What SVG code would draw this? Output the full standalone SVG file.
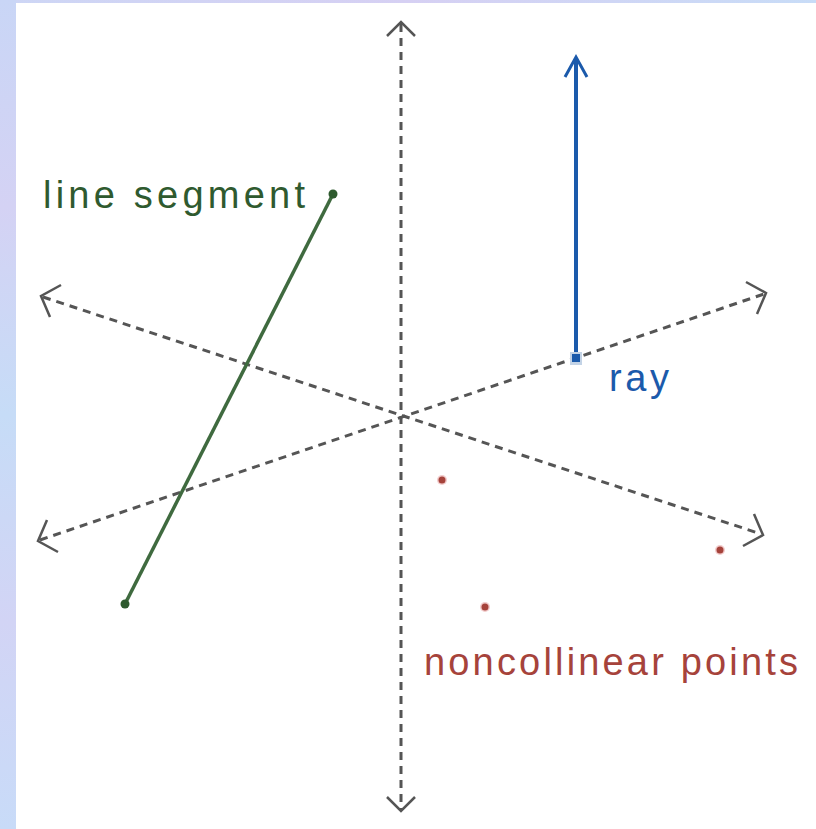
<svg xmlns="http://www.w3.org/2000/svg" width="816" height="829" viewBox="0 0 816 829">
  <defs>
    <linearGradient id="bg" x1="0" y1="0" x2="0" y2="1">
      <stop offset="0" stop-color="#c9d6f6"/>
      <stop offset="0.25" stop-color="#d4d2f4"/>
      <stop offset="0.5" stop-color="#c6dcf7"/>
      <stop offset="0.75" stop-color="#d2d4f5"/>
      <stop offset="1" stop-color="#c8dbf8"/>
    </linearGradient>
    <linearGradient id="bgTop" x1="0" y1="0" x2="1" y2="0">
      <stop offset="0" stop-color="#cdd6f5"/>
      <stop offset="0.5" stop-color="#d6d0f3"/>
      <stop offset="1" stop-color="#c8dcf7"/>
    </linearGradient>
    <style>
      .dash { fill: none; stroke: #555555; stroke-width: 3; stroke-dasharray: 8 6; }
      .head { fill: none; stroke: #555555; stroke-width: 2.5; stroke-linejoin: miter; }
      .lbl { font-family: "Liberation Sans", Arial, sans-serif; font-size: 38px; }
    </style>
  </defs>

  <rect x="0" y="0" width="816" height="829" fill="#ffffff"/>
  <rect x="0" y="0" width="816" height="3" fill="url(#bgTop)"/>
  <rect x="0" y="0" width="16" height="829" fill="url(#bg)"/>

  <g id="connectors">
    <g id="line-vertical">
      <line class="dash" x1="401" y1="24" x2="401" y2="809"/>
      <polyline class="head" points="387,36 401,22 415,36"/>
      <polyline class="head" points="387,797 401,811 415,797"/>
    </g>
    <g id="line-falling">
      <line class="dash" x1="43" y1="297" x2="761" y2="534"/>
      <polyline class="head" points="61,285 41,296 50,317"/>
      <polyline class="head" points="743,546 763,535 754,514"/>
    </g>
    <g id="line-rising">
      <line class="dash" x1="40" y1="540" x2="764" y2="294"/>
      <polyline class="head" points="58,552 38,541 47,520"/>
      <polyline class="head" points="757,314 766,293 746,282"/>
    </g>
  </g>

  <g id="segment">
    <line x1="333" y1="194" x2="125" y2="604" stroke="#3f6a3f" stroke-width="3.5"/>
    <circle cx="333" cy="194" r="4.5" fill="#2e5a2e"/>
    <circle cx="125" cy="604" r="4.5" fill="#2e5a2e"/>
    <text class="lbl" x="43" y="208" fill="#2f5a2f" textLength="262" lengthAdjust="spacing">line segment</text>
  </g>

  <g id="ray">
    <line x1="576" y1="358" x2="576" y2="58" stroke="#1b5aab" stroke-width="4"/>
    <polyline points="565,77 576,57 587,77" fill="none" stroke="#1b5aab" stroke-width="3"/>
    <rect x="570" y="352" width="12" height="13" fill="#c3d3e6"/>
    <rect x="572" y="354" width="8" height="8" fill="#1b5aab"/>
    <text class="lbl" x="609" y="391" fill="#1b5aab" font-size="40" textLength="60" lengthAdjust="spacing">ray</text>
  </g>

  <g id="points">
    <circle cx="442" cy="480" r="5" fill="#f2cccc"/>
    <circle cx="442" cy="480" r="3.5" fill="#a6433b"/>
    <circle cx="485" cy="607" r="5" fill="#f2cccc"/>
    <circle cx="485" cy="607" r="3.5" fill="#a6433b"/>
    <circle cx="720" cy="550" r="5" fill="#f2cccc"/>
    <circle cx="720" cy="550" r="3.5" fill="#a6433b"/>
    <text class="lbl" x="424" y="675" fill="#a6433b" font-size="40" textLength="374" lengthAdjust="spacing">noncollinear points</text>
  </g>
</svg>
